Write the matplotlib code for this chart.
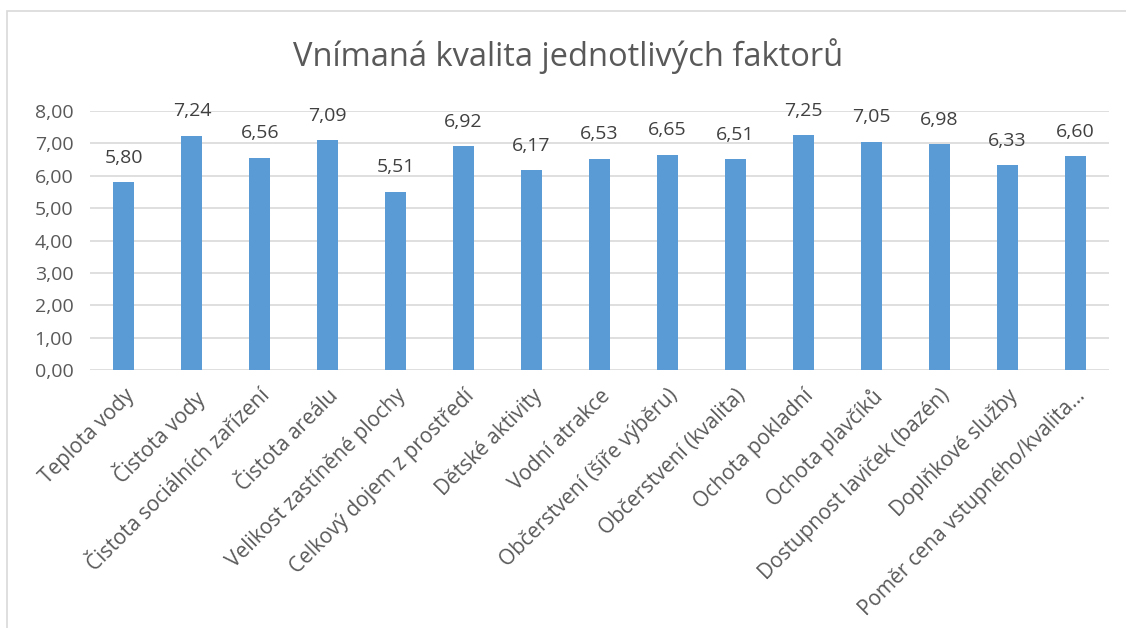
import matplotlib.pyplot as plt
from matplotlib.patches import Rectangle
from matplotlib.ticker import FuncFormatter

# Data
faktory = ['Teplota vody', 'Čistota vody', 'Čistota sociálních zařízení',
           'Čistota areálu', 'Velikost zastíněné plochy',
           'Celkový dojem z prostředí', 'Dětské aktivity', 'Vodní atrakce',
           'Občerstvení (šíře výběru)', 'Občerstvení (kvalita)',
           'Ochota pokladní', 'Ochota plavčíků', 'Dostupnost laviček (bazén)',
           'Doplňkové služby', 'Poměr cena vstupného/kvalita…']
hodnoty = [5.80, 7.24, 6.56, 7.09, 5.51, 6.92, 6.17, 6.53, 6.65, 6.51,
           7.25, 7.05, 6.98, 6.33, 6.60]

plt.rcParams['font.family'] = ['Open Sans', 'DejaVu Sans']
sedy = '#595959'

fig = plt.figure(figsize=(11.26, 6.28), dpi=100)
ax = fig.add_axes([0.0799, 0.4108, 0.9051, 0.4124])

# ramecek grafu
fig.patches.append(Rectangle((7 / 1126, -0.1), 1.2, 1 - 11 / 628 + 0.1,
                             transform=fig.transFigure, fill=False,
                             edgecolor='#d9d9d9', linewidth=1.2))

x = range(len(hodnoty))
ax.bar(x, hodnoty, width=0.31, color='#5b9bd5', zorder=3)

for i, v in zip(x, hodnoty):
    ax.annotate(('%.2f' % v).replace('.', ','), (i, v), xytext=(0, 14),
                textcoords='offset points', ha='center', va='baseline',
                fontsize=14, color='#404040')

ax.set_xlim(-0.5, len(hodnoty) - 0.5)
ax.set_ylim(0, 8)
ax.set_yticks(range(0, 9))
ax.yaxis.set_major_formatter(FuncFormatter(lambda v, p: ('%.2f' % v).replace('.', ',')))
ax.grid(axis='y', color='#d9d9d9', linewidth=1.2, zorder=0)
ax.set_xticks(list(x))
ax.set_xticklabels(faktory, rotation=45, ha='right', rotation_mode='anchor')
ax.tick_params(length=0, labelsize=14, labelcolor=sedy)
ax.tick_params(axis='x', pad=11, labelsize=15)
ax.tick_params(axis='y', pad=12)
for s in ax.spines.values():
    s.set_visible(False)

fig.text(0.5045, 0.910, 'Vnímaná kvalita jednotlivých faktorů', ha='center',
         va='center', fontsize=23.5, color=sedy)

fig.savefig('out.png', dpi=100)
